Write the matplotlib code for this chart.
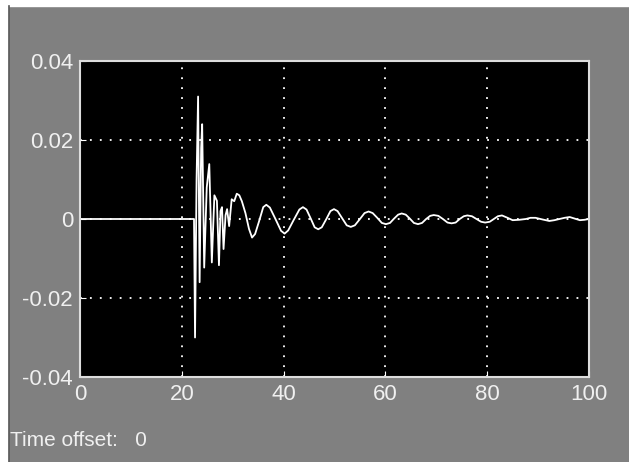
import matplotlib
matplotlib.use("Agg")
import matplotlib.pyplot as plt
from matplotlib.lines import Line2D
from matplotlib.patches import Rectangle

# scope trace
t = [0, 22.4, 22.6, 22.9, 23.2, 23.5, 23.8, 24.0, 24.4, 24.9, 25.4, 25.9, 26.4,
     26.9, 27.3, 27.6, 27.9, 28.2, 28.6, 28.9, 29.3, 29.8, 30.3, 30.8, 31.3,
     31.8, 32.5, 33.2, 33.8, 34.4, 35.2, 36.0, 36.6, 37.3, 38.4, 39.5, 40.2,
     40.9, 42.0, 43.1, 43.8, 44.5, 45.3, 46.1, 46.8, 47.5, 48.4, 49.2, 49.9,
     50.6, 51.5, 52.4, 53.2, 54.0, 55.0, 55.9, 56.7, 57.5, 58.4, 59.3, 60.1,
     60.9, 61.7, 62.5, 63.2, 64.0, 64.8, 65.6, 66.4, 67.2, 68.0, 68.8, 69.5,
     70.4, 71.3, 72.2, 73.0, 73.8, 74.6, 75.4, 76.1, 77.0, 77.9, 78.8, 79.6,
     80.5, 81.3, 82.1, 82.9, 84.0, 85.0, 86.3, 87.6, 88.5, 89.5, 90.8, 92.2,
     93.2, 94.2, 95.2, 96.2, 97.2, 98.2, 99.1, 100]
v = [0, 0, -0.030, 0.010, 0.031, -0.016, 0.018, 0.024, -0.0123, 0.008, 0.0139,
     -0.011, 0.006, 0.0046, -0.0117, 0.002, 0.003, -0.0076, 0.001, 0.0025,
     -0.0018, 0.005, 0.0045, 0.0064, 0.0060, 0.0045, 0.0015, -0.0025, -0.0047,
     -0.0038, -0.0005, 0.0030, 0.0036, 0.0029, 0.0000, -0.0030, -0.0037,
     -0.0029, -0.0002, 0.0024, 0.0030, 0.0024, 0.0002, -0.0021, -0.0026,
     -0.0021, 0.0000, 0.0020, 0.0025, 0.0020, 0.0002, -0.0016, -0.0020,
     -0.0016, 0.0000, 0.0015, 0.0019, 0.0015, 0.0003, -0.0010, -0.0013,
     -0.0010, 0.0001, 0.0011, 0.0014, 0.0011, 0.0001, -0.0010, -0.0013,
     -0.0010, 0.0000, 0.0008, 0.0010, 0.0008, 0.0000, -0.0009, -0.0011,
     -0.0009, 0.0000, 0.0007, 0.0009, 0.0007, 0.0000, -0.0007, -0.0009,
     -0.0007, 0.0000, 0.0007, 0.0009, 0.0003, -0.0003, -0.0002, 0.0000,
     0.0003, 0.0003, -0.0001, -0.0005, -0.0003, 0.0000, 0.0003, 0.0005,
     0.0001, -0.0003, -0.0002, 0.0]
xticks = [0, 20, 40, 60, 80, 100]
yticks = [-0.04, -0.02, 0, 0.02, 0.04]
ylabels = ["-0.04", "-0.02", "0", "0.02", "0.04"]

plt.rcParams['font.family'] = ['Liberation Sans Narrow', 'Liberation Sans', 'DejaVu Sans']
W, H = 629, 462
fig = plt.figure(figsize=(W/100, H/100), dpi=100, facecolor='#808080')

# white strips + dark edge of the window
fig.patches.append(Rectangle((0, 1-6/H), 1, 6/H, transform=fig.transFigure,
                             color='white', zorder=0))
fig.patches.append(Rectangle((0, 0), 8/W, 1, transform=fig.transFigure,
                             color='white', zorder=0))
fig.lines.append(Line2D([8.5/W, 8.5/W], [0, 1-6/H], transform=fig.transFigure,
                        color='#555555', lw=1.2))

ax = fig.add_axes([80/W, 1-377/H, 509/W, 316/H], facecolor='black')
ax.plot(t, v, color='white', lw=1.3)
ax.set_xlim(0, 100)
ax.set_ylim(-0.04, 0.04)
ax.set_xticks(xticks)
ax.set_yticks(yticks)
ax.set_yticklabels(ylabels)
ax.grid(True, color='white', linestyle=(0, (1, 4.5)), lw=1.3)
ax.tick_params(direction='in', colors='white', labelcolor='#f0f0f0',
               labelsize=16, length=4, pad=5)
for s in ax.spines.values():
    s.set_color('#dddddd')
    s.set_linewidth(1.5)

fig.text(10/W, 1-440/H, "Time offset:   0", color='#f0f0f0', fontsize=15,
         va='center', ha='left')

fig.savefig("out.png", dpi=100, facecolor=fig.get_facecolor())
